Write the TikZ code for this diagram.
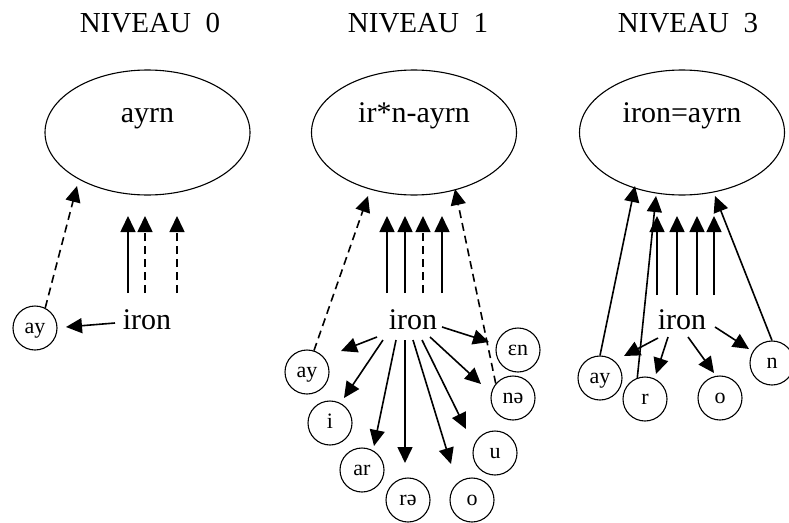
\documentclass[tikz,border=0pt]{standalone}
\usepackage{fontspec}
\setmainfont{Liberation Serif}
\usetikzlibrary{arrows.meta,shapes.geometric}
\begin{document}
\begin{tikzpicture}[x=1pt,y=-1pt,
  bigtext/.style={font=\fontsize{30}{34}\selectfont, inner sep=0pt, anchor=base},
  titletext/.style={font=\fontsize{29}{34}\selectfont, inner sep=0pt, anchor=base},
  ell/.style={draw, line width=1.1pt, ellipse, minimum width=205pt, minimum height=125pt, inner sep=0pt},
  circ/.style={draw, line width=1.1pt, circle, minimum size=44pt, inner sep=0pt,
    font=\fontsize{22}{24}\selectfont, text height=10pt, text depth=0pt},
  arr/.style={line width=1.6pt, -{Triangle[length=16pt,width=15pt]}},
  dsh/.style={arr, dash pattern=on 8pt off 5pt}]
\useasboundingbox (0,0) rectangle (789,522);

% ---------------- NIVEAU 0
\node[titletext] (N0) at (150,32) {NIVEAU\ \ 0};
\node[ell] (E0) at (147.5,132.5) {};
\node[bigtext] (T0) at (147.5,122) {ayrn};
\node[bigtext] (I0) at (147,329) {iron};
\node[circ] (ay0) at (35,328) {ay};
\coordinate (a0s) at (128,293); \coordinate (a0t) at (128,216);
\coordinate (b0s) at (145,293); \coordinate (b0t) at (145,216);
\coordinate (c0s) at (177,293); \coordinate (c0t) at (177,216);
\coordinate (d0t) at (77,186);
\coordinate (e0s) at (115,323); \coordinate (e0t) at (66,327);
\draw[arr] (a0s) -- (a0t);
\draw[dsh] (b0s) -- (b0t);
\draw[dsh] (c0s) -- (c0t);
\draw[dsh] (ay0.63) -- (d0t);
\draw[arr] (e0s) -- (e0t);

% ---------------- NIVEAU 1
\node[titletext] (N1) at (418,32) {NIVEAU\ \ 1};
\node[ell] (E1) at (414,132.5) {};
\node[bigtext] (T1) at (414,122) {ir*n-ayrn};
\node[bigtext] (I1) at (413,329) {iron};
\node[circ] (ay1) at (307,372) {ay};
\node[circ] (i1) at (330,423) {i};
\node[circ] (ar1) at (362,470) {ar};
\node[circ] (re1) at (408,500) {rə};
\node[circ] (o1) at (472,500) {o};
\node[circ] (u1) at (495,453) {u};
\node[circ] (ne1) at (513,398) {nə};
\node[circ] (en1) at (518,350) {ɛn};
\foreach \x/\n in {387/a,405/b,442/d}{
  \coordinate (\n1s) at (\x,293); \coordinate (\n1t) at (\x,216);
  \draw[arr] (\n1s) -- (\n1t);}
\coordinate (c1s) at (423,293); \coordinate (c1t) at (423,216);
\draw[dsh] (c1s) -- (c1t);
\coordinate (l1t) at (368,196);
\coordinate (r1t) at (455,189);
\draw[dsh] (ay1.72) -- (l1t);
\draw[dsh] (ne1.140) -- (r1t);
\foreach \n/\sx/\sy/\tx/\ty in {
  p/377/337/341/351,
  q/383/340/344/398,
  s/396/340/374/446,
  t/405/340/405/463,
  v/413/340/451/464,
  w/422/340/466/429,
  y/430/337/481/384,
  z/442/327/489/342}{
  \coordinate (\n1s) at (\sx,\sy); \coordinate (\n1t) at (\tx,\ty);
  \draw[arr] (\n1s) -- (\n1t);}

% ---------------- NIVEAU 3
\node[titletext] (N3) at (688,32) {NIVEAU\ \ 3};
\node[ell] (E3) at (682,132.5) {};
\node[bigtext] (T3) at (682,122) {iron=ayrn};
\node[bigtext] (I3) at (682,329) {iron};
\node[circ] (ay3) at (600,378) {ay};
\node[circ] (r3) at (645,399) {r};
\node[circ] (o3) at (720,398) {o};
\node[circ] (n3) at (772,363) {n};
\foreach \x/\n in {657/a,677/b,697/c,714/d}{
  \coordinate (\n3s) at (\x,295); \coordinate (\n3t) at (\x,216);
  \draw[arr] (\n3s) -- (\n3t);}
\coordinate (ay3t) at (635,186);
\coordinate (r3t) at (656,196);
\coordinate (n3t) at (715,196);
\draw[arr] (ay3.north) -- (ay3t);
\draw[arr] (r3.110) -- (r3t);
\draw[arr] (n3.north) -- (n3t);
\foreach \n/\sx/\sy/\tx/\ty in {
  p/658/338/624/356,
  q/668/337/656/374,
  s/688/337/714/373,
  t/715/327/749/349}{
  \coordinate (\n3s) at (\sx,\sy); \coordinate (\n3t) at (\tx,\ty);
  \draw[arr] (\n3s) -- (\n3t);}
\end{tikzpicture}
\end{document}
